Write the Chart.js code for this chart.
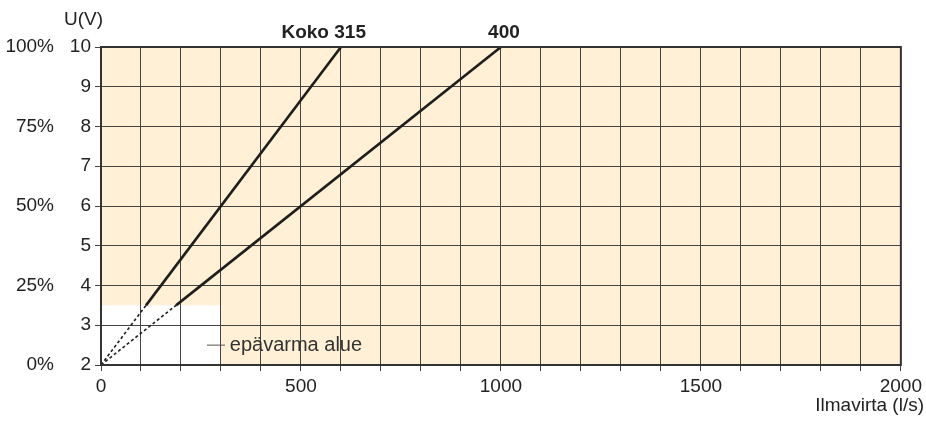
<!DOCTYPE html>
<html lang="fi">
<head>
<meta charset="UTF-8">
<title>Ilmavirta ja ohjausjännite</title>
<script src="https://cdn.jsdelivr.net/npm/chart.js"></script>
<style>
    body { margin: 0; background: #fff; }
    #wrap { width: 926px; height: 421px; }
</style>
</head>
<body>
<div id="wrap"><canvas id="kaavio" width="926" height="421"></canvas></div>
<script>
// arvot luettu kuvasta: ilmavirta (l/s) ja jännite (V)
const koko315X = [0, 112.5, 600];
const koko315Y = [2, 3.5, 10];
const koko400X = [0, 187.5, 1000];
const koko400Y = [2, 3.5, 10];
const sarjaNimet = ['Koko 315', '400'];
const xTikit = [0, 500, 1000, 1500, 2000];
const pctTikit = ['0%', '25%', '50%', '75%', '100%'];
// epävarma alue (valkoinen laatikko)
const epavarmaX = [0, 300];
const epavarmaY = [2, 3.5];
const epavarmaTeksti = 'epävarma alue';

const fontti = '"Liberation Sans", Arial, Helvetica, sans-serif';
const tekstiVari = '#222';
const ruudukkoVari = '#444';

function pisteet(xs, ys) {
    const out = [];
    for (let i = 0; i < xs.length; i++) out.push({ x: xs[i], y: ys[i] });
    return out;
}

// ensimmäinen pätkä (0,2) -> alkupiste piirretään katkoviivana
const katko = {
    borderDash: ctx => ctx.p0DataIndex === 0 ? [3, 2.5] : undefined,
    borderWidth: ctx => ctx.p0DataIndex === 0 ? 1.6 : undefined
};

const taustaPlugin = {
    id: 'tausta',
    beforeDraw(chart) {
        const { ctx, chartArea: a, scales: { x, y } } = chart;
        ctx.save();
        ctx.fillStyle = '#fff0d6';
        ctx.fillRect(a.left, a.top, a.right - a.left, a.bottom - a.top);
        ctx.fillStyle = '#ffffff';
        const x0 = x.getPixelForValue(epavarmaX[0]), x1 = x.getPixelForValue(epavarmaX[1]);
        const y0 = y.getPixelForValue(epavarmaY[0]), y1 = y.getPixelForValue(epavarmaY[1]);
        ctx.fillRect(x0, y1, x1 - x0, y0 - y1);
        ctx.restore();
    },
    afterDraw(chart) {
        const { ctx, chartArea: a, scales: { x, y } } = chart;
        ctx.save();
        // kehys
        ctx.strokeStyle = '#333';
        ctx.lineWidth = 2;
        ctx.strokeRect(a.left, a.top, a.right - a.left, a.bottom - a.top);

        ctx.fillStyle = tekstiVari;
        ctx.font = '19px ' + fontti;
        ctx.textBaseline = 'middle';
        ctx.textAlign = 'left';
        ctx.fillText('U(V)', 64, 20);
        ctx.textAlign = 'right';
        ctx.fillText('Ilmavirta (l/s)', 924, 406);

        // epävarma alue -selite
        const ly = y.getPixelForValue(2.5);
        ctx.strokeStyle = '#555';
        ctx.lineWidth = 1;
        ctx.beginPath();
        ctx.moveTo(x.getPixelForValue(265), ly);
        ctx.lineTo(x.getPixelForValue(310), ly);
        ctx.stroke();
        ctx.textAlign = 'left';
        ctx.fillStyle = '#333';
        ctx.font = '20px ' + fontti;
        ctx.fillText(epavarmaTeksti, x.getPixelForValue(322), ly);

        // sarjojen nimet yläreunassa
        ctx.fillStyle = tekstiVari;
        ctx.font = 'bold 19px ' + fontti;
        ctx.textBaseline = 'alphabetic';
        ctx.textAlign = 'right';
        ctx.fillText(sarjaNimet[0], x.getPixelForValue(koko315X[2]) + 25, 38);
        ctx.textAlign = 'center';
        ctx.fillText(sarjaNimet[1], x.getPixelForValue(koko400X[2]) + 3, 38);
        ctx.restore();
    }
};

new Chart(document.getElementById('kaavio'), {
    type: 'line',
    data: {
        datasets: [
            {
                label: sarjaNimet[0],
                data: pisteet(koko315X, koko315Y),
                borderColor: '#1e1e1e',
                borderWidth: 2.6,
                pointRadius: 0,
                segment: katko
            },
            {
                label: sarjaNimet[1],
                data: pisteet(koko400X, koko400Y),
                borderColor: '#1e1e1e',
                borderWidth: 2.6,
                pointRadius: 0,
                segment: katko
            }
        ]
    },
    plugins: [taustaPlugin],
    options: {
        responsive: false,
        animation: false,
        layout: { padding: { top: 47, right: 24, bottom: 0, left: 0 } },
        plugins: { legend: { display: false }, tooltip: { enabled: false } },
        scales: {
            x: {
                type: 'linear',
                min: 0,
                max: 2000,
                ticks: {
                    stepSize: 100,
                    autoSkip: false,
                    maxRotation: 0,
                    padding: 4,
                    color: tekstiVari,
                    font: { family: fontti, size: 19 },
                    callback: v => xTikit.includes(v) ? String(v) : ''
                },
                grid: { color: ruudukkoVari, lineWidth: 1, tickLength: 6 },
                border: { color: '#333', width: 2 },
                afterFit: s => { s.height = 56; }
            },
            y: {
                min: 2,
                max: 10,
                weight: 0,
                ticks: {
                    stepSize: 1,
                    padding: 4,
                    color: tekstiVari,
                    font: { family: fontti, size: 19 }
                },
                grid: { color: ruudukkoVari, lineWidth: 1, tickLength: 6 },
                border: { color: '#333', width: 2 },
                afterFit: s => { s.width = 41; }
            },
            pct: {
                position: 'left',
                min: 2,
                max: 10,
                weight: 1,
                ticks: {
                    stepSize: 2,
                    padding: 6,
                    color: tekstiVari,
                    font: { family: fontti, size: 19 },
                    callback: v => pctTikit[(v - 2) / 2]
                },
                grid: { display: false, drawTicks: false },
                border: { display: false },
                afterFit: s => { s.width = 60; }
            }
        }
    }
});
</script>
</body>
</html>
